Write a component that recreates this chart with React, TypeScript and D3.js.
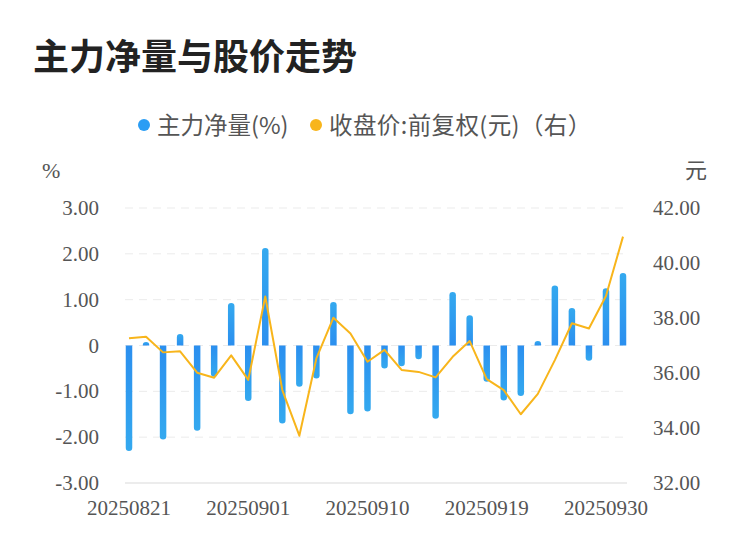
import React from "react";
import * as d3 from "d3";

const dates = [
  "20250821", "20250822", "20250825", "20250826", "20250827", "20250828", "20250829",
  "20250901", "20250902", "20250903", "20250904", "20250905", "20250908", "20250909",
  "20250910", "20250911", "20250912", "20250915", "20250916", "20250917", "20250918",
  "20250919", "20250922", "20250923", "20250924", "20250925", "20250926", "20250929",
  "20250930", "20251009",
];

const netFlow = [
  -2.3, 0.03, -2.05, 0.25, -1.86, -0.68, 0.93, -1.21, 2.13, -1.7,
  -0.9, -0.72, 0.95, -1.5, -1.44, -0.5, -0.45, -0.3, -1.6, 1.17,
  0.66, -0.79, -1.2, -1.1, 0.05, 1.31, 0.82, -0.33, 1.25, 1.58,
];

const closePrice = [
  37.26, 37.32, 36.75, 36.79, 36.01, 35.83, 36.64, 35.75, 38.78, 35.38,
  33.72, 36.53, 38.01, 37.44, 36.41, 36.84, 36.11, 36.04, 35.84, 36.59,
  37.16, 35.78, 35.38, 34.5, 35.24, 36.47, 37.81, 37.62, 38.8, 40.96,
];

const leftTicks = [3, 2, 1, 0, -1, -2, -3];
const rightTicks = [42, 40, 38, 36, 34, 32];
const shownDates = ["20250821", "20250901", "20250910", "20250919", "20250930"];

const W = 750;
const H = 558;
const gridLeft = 125;
const gridRight = 627;
const top = 208;
const bottom = 483;

const serif = "'Liberation Serif', 'Times New Roman', serif";
const cjk = "'Noto Sans CJK SC', 'Noto Sans', sans-serif";

export default function App() {
  const x = d3.scalePoint<string>().domain(dates).range([129, 623]);
  const yL = d3.scaleLinear().domain([-3, 3]).range([bottom, top]);
  const yR = d3.scaleLinear().domain([32, 42]).range([bottom, top]);
  const line = d3
    .line<number>()
    .x((_, i) => x(dates[i]) as number)
    .y((d) => yR(d));
  const barW = 6.5;

  return (
    <svg width={W} height={H} style={{ display: "block", position: "absolute", left: 0, top: 0 }}>
      <defs>
        <linearGradient id="barGrad" x1="0" y1="0" x2="0" y2="1">
          <stop offset="0%" stopColor="#34a9ef" />
          <stop offset="100%" stopColor="#2b8fef" />
        </linearGradient>
        <linearGradient id="barGradNeg" x1="0" y1="0" x2="0" y2="1">
          <stop offset="0%" stopColor="#2b8fef" />
          <stop offset="100%" stopColor="#34a9ef" />
        </linearGradient>
      </defs>
      <rect width={W} height={H} fill="#fff" />
      <text x={33} y={70} fontFamily={cjk} fontWeight="bold" fontSize={36} fill="#222">
        主力净量与股价走势
      </text>

      {/* legend */}
      <circle cx={144} cy={125} r={6} fill="#2a9df4" />
      <text x={157} y={133.5} fontFamily={cjk} fontSize={23.5} fill="#555">
        主力净量(%)
      </text>
      <circle cx={316} cy={125} r={6} fill="#f8b51b" />
      <text x={329} y={133.5} fontFamily={cjk} fontSize={23.5} fill="#555" letterSpacing={0.4}>
        收盘价:前复权(元)（右）
      </text>

      <text x={42} y={178} fontFamily={serif} fontSize={22} fill="#555">%</text>
      <text x={685} y={178} fontFamily={cjk} fontSize={22} fill="#555">元</text>

      {/* grid */}
      {leftTicks.map((t) => (
        <line
          key={t}
          x1={gridLeft}
          x2={gridRight}
          y1={yL(t)}
          y2={yL(t)}
          stroke={t === -3 ? "#e6e6e6" : "#ebebeb"}
          strokeWidth={t === -3 ? 1.5 : 1}
          strokeDasharray={t === -3 ? undefined : "8,6"}
        />
      ))}
      {leftTicks.map((t) => (
        <text key={t} x={99} y={yL(t) + 7} textAnchor="end" fontFamily={serif} fontSize={21} fill="#555">
          {t === 0 ? "0" : t.toFixed(2)}
        </text>
      ))}
      {rightTicks.map((t) => (
        <text key={t} x={653} y={yR(t) + 7} fontFamily={serif} fontSize={21} fill="#555">
          {t.toFixed(2)}
        </text>
      ))}
      {shownDates.map((d) => (
        <text key={d} x={x(d)} y={515} textAnchor="middle" fontFamily={serif} fontSize={21} fill="#555">
          {d}
        </text>
      ))}

      {/* bars */}
      {netFlow.map((v, i) => {
        const y0 = yL(0);
        const y1 = yL(v);
        const h = Math.max(Math.abs(y1 - y0), 2);
        const yTop = Math.min(y0, y1);
        const cx = x(dates[i]) as number;
        const r = Math.min(barW / 2, h / 2);
        const path =
          v >= 0
            ? `M${cx - barW / 2},${y0} V${yTop + r} A${r},${r} 0 0 1 ${cx + barW / 2},${yTop + r} V${y0} Z`
            : `M${cx - barW / 2},${y0} V${yTop + h - r} A${r},${r} 0 0 0 ${cx + barW / 2},${yTop + h - r} V${y0} Z`;
        return <path key={i} d={path} fill={v >= 0 ? "url(#barGrad)" : "url(#barGradNeg)"} />;
      })}

      <path d={line(closePrice) || ""} fill="none" stroke="#f8b51b" strokeWidth={2} strokeLinejoin="round" />
    </svg>
  );
}
